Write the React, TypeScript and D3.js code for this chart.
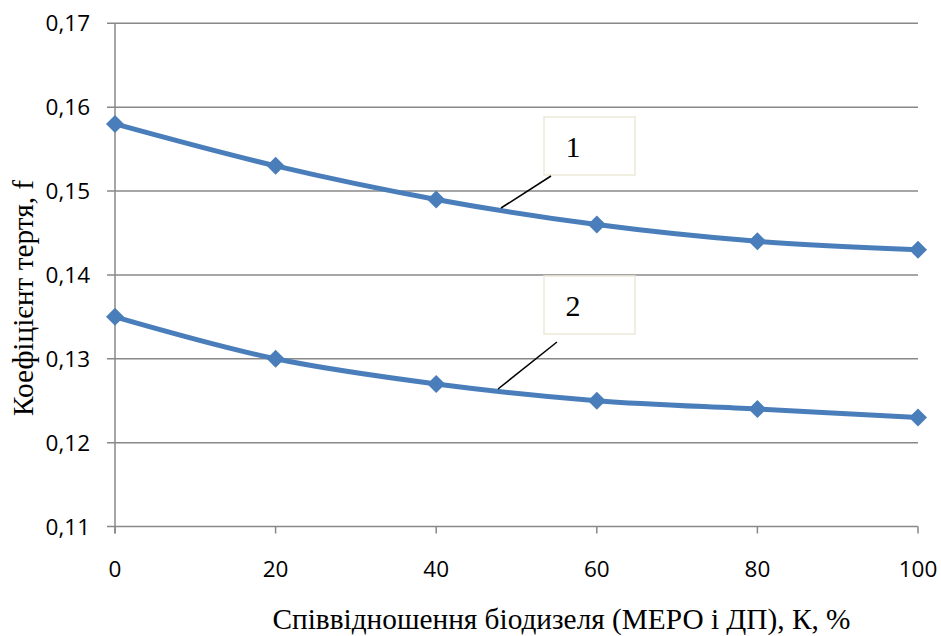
import React from "react";
import * as d3 from "d3";

const categories = [0, 20, 40, 60, 80, 100];
const series1 = [0.158, 0.153, 0.149, 0.146, 0.144, 0.143];
const series2 = [0.135, 0.13, 0.127, 0.125, 0.124, 0.123];
const yTicks = [0.11, 0.12, 0.13, 0.14, 0.15, 0.16, 0.17];
const seriesLabels = ["1", "2"];
const xTitle = "Співвідношення біодизеля (МЕРО і ДП), К, %";
const yTitle = "Коефіцієнт тертя, f";

const W = 941;
const H = 636;
const left = 115;
const right = 918;
const top = 23.3;
const bottom = 526.5;
const blue = "#4A7EBB";
const grid = "#888888";

export default function App() {
  const x = d3.scaleLinear().domain([0, 100]).range([left, right]);
  const y = d3.scaleLinear().domain([0.11, 0.17]).range([bottom, top]);
  const line = d3
    .line<number>()
    .x((_, i) => x(categories[i]))
    .y((d) => y(d))
    .curve(d3.curveCatmullRom.alpha(0.5));
  const fmt = (v: number) => v.toFixed(2).replace(".", ",");
  const diamond = (cx: number, cy: number, r = 9) =>
    `M${cx},${cy - r}L${cx + r},${cy}L${cx},${cy + r}L${cx - r},${cy}Z`;

  const labels = [
    { text: seriesLabels[0], bx: 544, by: 117, lx1: 551, ly1: 176, lx2: 501, ly2: 208 },
    { text: seriesLabels[1], bx: 544, by: 276, lx1: 557, ly1: 342, lx2: 498, ly2: 389 },
  ];

  const tickFont = "'Open Sans', 'Noto Sans', sans-serif";
  const serif = "'Liberation Serif', 'Times New Roman', serif";

  return (
    <svg
      width={W}
      height={H}
      style={{ position: "absolute", left: 0, top: 0, background: "#fff" }}
    >
      {yTicks.map((t) => (
        <g key={t}>
          <line x1={left - 8} x2={right} y1={y(t)} y2={y(t)} stroke={grid} strokeWidth={1.5} />
          <text x={90} y={y(t) + 8} textAnchor="end" fontFamily={tickFont} fontSize={22.5} fill="#000">
            {fmt(t)}
          </text>
        </g>
      ))}
      <line x1={left} x2={left} y1={top} y2={bottom + 7} stroke={grid} strokeWidth={1.5} />
      {categories.map((c) => (
        <g key={c}>
          <line x1={x(c)} x2={x(c)} y1={bottom} y2={bottom + 7} stroke={grid} strokeWidth={1.5} />
          <text x={x(c)} y={577} textAnchor="middle" fontFamily={tickFont} fontSize={22.5} fill="#000">
            {c}
          </text>
        </g>
      ))}
      {[series1, series2].map((s, si) => (
        <g key={si}>
          <path d={line(s) || ""} fill="none" stroke={blue} strokeWidth={5} />
          {s.map((v, i) => (
            <path key={i} d={diamond(x(categories[i]), y(v))} fill={blue} />
          ))}
        </g>
      ))}
      {labels.map((l) => (
        <g key={l.text}>
          <rect x={l.bx} y={l.by} width={91} height={58} fill="#fff" stroke="#ECEAD9" strokeWidth={1.5} />
          <text x={l.bx + 29} y={l.by + 40} textAnchor="middle" fontFamily={serif} fontSize={30} fill="#000">
            {l.text}
          </text>
          <line x1={l.lx1} y1={l.ly1} x2={l.lx2} y2={l.ly2} stroke="#000" strokeWidth={1.5} />
        </g>
      ))}
      <text x={561.5} y={629} textAnchor="middle" fontFamily={serif} fontSize={29.3} fill="#000">
        {xTitle}
      </text>
      <text
        transform={`translate(33, 298) rotate(-90)`}
        textAnchor="middle"
        fontFamily={serif}
        fontSize={29.3}
        fill="#000"
      >
        {yTitle}
      </text>
    </svg>
  );
}
